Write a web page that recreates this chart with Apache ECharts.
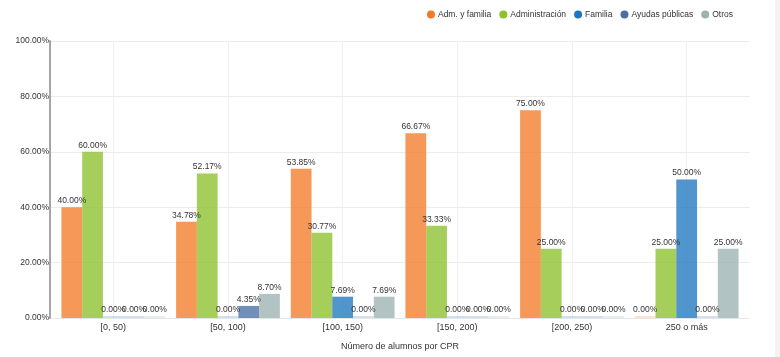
<!DOCTYPE html>
<html><head><meta charset="utf-8">
<script src="https://cdn.jsdelivr.net/npm/echarts@6/dist/echarts.min.js"></script>
<style>html,body{margin:0;padding:0;background:#fff;}#c{width:780px;height:357px;}
#sb{position:absolute;right:0;top:0;width:5px;height:357px;background:#f3f3f3;}</style>
</head><body><div id="c"></div><div id="sb"></div>
<script>
const categories = ['[0, 50)', '[50, 100)', '[100, 150)', '[150, 200)', '[200, 250)', '250 o más'];
const seriesNames = ['Adm. y familia', 'Administración', 'Familia', 'Ayudas públicas', 'Otros'];
const admFamilia = [40, 34.78, 53.85, 66.67, 75, 0];
const administracion = [60, 52.17, 30.77, 33.33, 25, 25];
const familia = [0, 0, 7.69, 0, 0, 50];
const ayudas = [0, 4.35, 0, 0, 0, 0];
const otros = [0, 8.70, 7.69, 0, 0, 25];
const yTicks = [0, 20, 40, 60, 80, 100];
const colors = ['#f37b28', '#8cc02c', '#1f77bf', '#4a6fa5', '#9cb2b2'];
const allData = [admFamilia, administracion, familia, ayudas, otros];

function fade(hex, a) {
  const n = parseInt(hex.slice(1), 16);
  return 'rgba(' + (n >> 16) + ',' + ((n >> 8) & 255) + ',' + (n & 255) + ',' + a + ')';
}

const chart = echarts.init(document.getElementById('c'));
const font = 'Liberation Sans, Arial, sans-serif';
chart.setOption({
  animation: false,
  color: colors,
  textStyle: { fontFamily: font },
  legend: {
    right: 42, top: 5, icon: 'circle', itemWidth: 8, itemHeight: 8, itemGap: 8,
    textStyle: { fontSize: 8.5, color: '#333', fontFamily: font, padding: [0, 0, 0, -2] },
    data: seriesNames.map((n, i) => ({ name: n, itemStyle: { color: colors[i], opacity: 1 } }))
  },
  grid: [
    { left: 56, right: 36, top: 41, bottom: 39 },
    { left: 50, right: 30, top: 41, bottom: 39 }
  ],
  xAxis: [{
    type: 'category', data: categories,
    name: 'Número de alumnos por CPR', nameLocation: 'middle', nameGap: 24,
    nameTextStyle: { fontSize: 9, color: '#333', fontFamily: font },
    axisLine: { lineStyle: { color: '#e6e6e6' } },
    axisTick: { show: false },
    axisLabel: { fontSize: 9, color: '#333', margin: 5 },
    splitLine: { show: true, alignWithLabel: true, lineStyle: { color: '#f0f0f0' } }
  }, {
    gridIndex: 1, type: 'value', min: 0, max: 1, show: false
  }],
  yAxis: [{
    type: 'value', min: 0, max: 100, interval: 20, offset: 6,
    axisLine: { show: true, lineStyle: { color: '#a6a6a6', width: 2 } },
    axisTick: { show: false },
    axisLabel: { fontSize: 8.5, color: '#333', margin: 1, formatter: v => v.toFixed(2) + '%' },
    splitLine: { show: false }
  }, {
    gridIndex: 1, type: 'value', min: 0, max: 100, interval: 20,
    axisLine: { show: false }, axisTick: { show: false }, axisLabel: { show: false },
    splitLine: { lineStyle: { color: '#ececec' } }
  }],
  series: allData.map((arr, i) => ({
    name: seriesNames[i], type: 'bar', barGap: '0%', barCategoryGap: '9.5%', barMinHeight: 2,
    itemStyle: { color: fade(colors[i], 0.78) },
    label: { show: true, position: 'top', distance: 2, fontSize: 8.5, color: '#333',
             formatter: p => p.value.toFixed(2) + '%' },
    data: arr.map(v => v === 0 ? { value: v, itemStyle: { color: fade(colors[i], 0.22) } } : v)
  }))
});
</script></body></html>
